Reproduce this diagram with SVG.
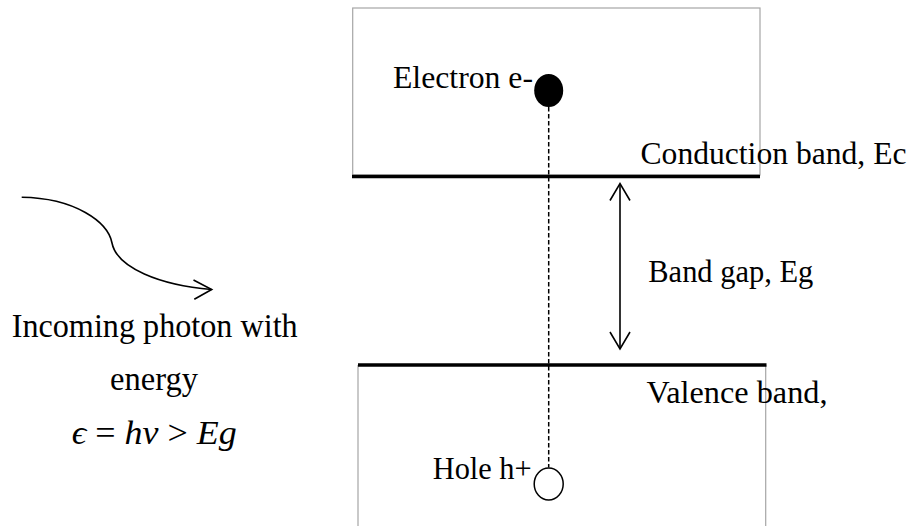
<svg xmlns="http://www.w3.org/2000/svg" width="911" height="526" viewBox="0 0 911 526">
<style>
  .t { font-family: "Liberation Serif", "Times New Roman", serif; fill: #000; }
  .box { fill: none; stroke: #a6a6a6; stroke-width: 1.2; }
  .band { stroke: #000; stroke-width: 3.5; }
  .ln { fill: none; stroke: #000; stroke-width: 1.6; }
  .dash { stroke: #000; stroke-width: 1.5; stroke-dasharray: 4.5 2.5; }
</style>
<rect width="911" height="526" fill="#fff"/>
<g id="conduction-band">
  <rect class="box" x="352.7" y="8" width="407.3" height="167"/>
  <line class="band" x1="352" y1="176.5" x2="760" y2="176.5"/>
  <text class="t" x="640.5" y="163.5" font-size="31" textLength="266" lengthAdjust="spacingAndGlyphs">Conduction band, Ec</text>
</g>
<g id="valence-band">
  <path class="box" d="M358,526 V365 M765.7,365 V526"/>
  <line class="band" x1="358" y1="365" x2="766.5" y2="365"/>
  <text class="t" x="646.5" y="403" font-size="31" textLength="181" lengthAdjust="spacingAndGlyphs">Valence band,</text>
</g>
<g id="electron">
  <ellipse cx="548.7" cy="90.5" rx="14.5" ry="16.5" fill="#000"/>
  <text class="t" x="393" y="88" font-size="31" textLength="140" lengthAdjust="spacingAndGlyphs">Electron e-</text>
</g>
<g id="hole">
  <ellipse cx="548.7" cy="484" rx="14.5" ry="16" fill="#fff" stroke="#000" stroke-width="1.5"/>
  <text class="t" x="432.7" y="479" font-size="30.5" textLength="99" lengthAdjust="spacingAndGlyphs">Hole h+</text>
</g>
<g id="band-gap">
  <text class="t" x="648.3" y="282" font-size="30.5" textLength="165" lengthAdjust="spacingAndGlyphs">Band gap, Eg</text>
</g>
<g id="photon">
  <text class="t" x="11.7" y="337" font-size="33" textLength="286" lengthAdjust="spacingAndGlyphs">Incoming photon with</text>
  <text class="t" x="110" y="390" font-size="33" textLength="88" lengthAdjust="spacingAndGlyphs">energy</text>
  <text class="t" x="71.7" y="444" font-size="34" textLength="165" lengthAdjust="spacingAndGlyphs"><tspan font-style="italic">ϵ</tspan> = <tspan font-style="italic">hv</tspan> &gt; <tspan font-style="italic">Eg</tspan></text>
</g>
<g id="connectors">
  <line class="dash" x1="548.7" y1="107" x2="548.7" y2="467.5"/>
  <path class="ln" d="M21.7,197.3 C75,198 108,222 112,243 C117,268 160,285 211.5,289.5"/>
  <path class="ln" d="M193.5,280 L211.7,289.5 L194.3,299.3"/>
  <line class="ln" x1="620" y1="184" x2="620" y2="348.5"/>
  <path class="ln" d="M610,200.5 L620,183.5 L630,200.5"/>
  <path class="ln" d="M610,332 L620,349 L630,332"/>
</g>
</svg>
